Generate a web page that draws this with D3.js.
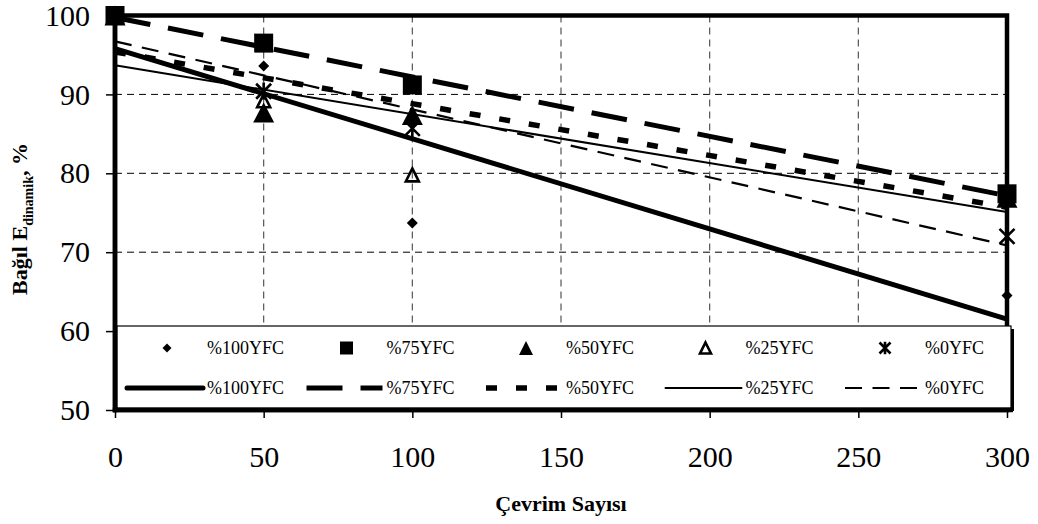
<!DOCTYPE html>
<html>
<head>
<meta charset="utf-8">
<script src="https://cdn.jsdelivr.net/npm/d3@7"></script>
<style>
  html, body { margin: 0; padding: 0; background: #fff; }
  svg { display: block; }
  svg text { font-family: "Liberation Serif", "Times New Roman", serif; fill: #000; }
  .tick text { font-size: 30px; }
  .tick line { stroke: #000; stroke-width: 1.5; }
</style>
</head>
<body>
<svg id="chart" width="1038" height="524"></svg>
<script>
// chart data
const cycles = [0, 50, 100, 300];
const yfc100 = [100, 93.6, 73.7, 64.5];
const yfc75  = [100, 96.5, 91.2, 77.4];
const yfc50  = [100, 87.7, 87.4, 76.9];
const yfc25  = [100, 89.2, 79.8, 77.9];
const yfc0   = [100, 90.4, 85.7, 72.0];
const seriesNames = ["%100YFC", "%75YFC", "%50YFC", "%25YFC", "%0YFC"];
const xTicks = [0, 50, 100, 150, 200, 250, 300];
const yTicks = [50, 60, 70, 80, 90, 100];

const W = 1038, H = 524;
const L = 115, R = 1007, T = 15.5, B = 410;

const svg = d3.select("#chart");
const x = d3.scaleLinear().domain([0, 300]).range([L, R]);
const y = d3.scaleLinear().domain([50, 100]).range([B, T]);

// marker shapes
function diamond(s) { return `M0,${-s}L${s},0L0,${s}L${-s},0Z`; }
function square(s) { return `M${-s},${-s}H${s}V${s}H${-s}Z`; }
function triangle(w, h) { return `M0,${-h/2}L${w/2},${h/2}L${-w/2},${h/2}Z`; }
function star(s) { return `M${-s},${-s}L${s},${s}M${s},${-s}L${-s},${s}M0,${-s*1.15}V${s*1.15}`; }

const series = [
  { name: seriesNames[0], vals: yfc100, marker: () => diamond(5.5), mFill: "#000", mStroke: "none", mW: 0,
    legMarker: () => diamond(4.5), line: { w: 5, dash: null } },
  { name: seriesNames[1], vals: yfc75, marker: () => square(9.5), mFill: "#000", mStroke: "none", mW: 0,
    legMarker: () => square(6.5), line: { w: 5, dash: "36,18" } },
  { name: seriesNames[2], vals: yfc50, marker: () => triangle(21, 20), mFill: "#000", mStroke: "none", mW: 0,
    legMarker: () => triangle(14, 14), line: { w: 5.5, dash: "11,19" } },
  { name: seriesNames[3], vals: yfc25, marker: () => triangle(13, 13), mFill: "none", mStroke: "#000", mW: 2.6,
    legMarker: () => triangle(11, 11), line: { w: 2, dash: null } },
  { name: seriesNames[4], vals: yfc0, marker: () => star(7.5), mFill: "none", mStroke: "#000", mW: 2.6,
    legMarker: () => star(5.5), line: { w: 2.2, dash: "17,10.5" } }
];

// linear trend (least squares)
function trend(vals) {
  const mx = d3.mean(cycles), my = d3.mean(vals);
  const sxy = d3.sum(cycles, (c, i) => (c - mx) * (vals[i] - my));
  const sxx = d3.sum(cycles, c => (c - mx) ** 2);
  const k = sxy / sxx;
  return [[0, my - k * mx], [300, my - k * mx + k * 300]];
}

// grid
const grid = svg.append("g");
grid.selectAll(".hg").data([60, 70, 80, 90]).join("line")
  .attr("x1", L).attr("x2", R).attr("y1", d => y(d)).attr("y2", d => y(d))
  .attr("stroke", "#000").attr("stroke-width", 1).attr("stroke-dasharray", "7,5");
grid.selectAll(".vg").data([50, 100, 150, 200, 250]).join("line")
  .attr("x1", d => x(d)).attr("x2", d => x(d)).attr("y1", T).attr("y2", B)
  .attr("stroke", "#555").attr("stroke-width", 1.2).attr("stroke-dasharray", "7,5");

// axes
const yAxis = svg.append("g").attr("transform", `translate(${L},0)`)
  .call(d3.axisLeft(y).tickValues(yTicks).tickSize(9).tickPadding(16).tickSizeOuter(0));
yAxis.select(".domain").remove();
const xAxis = svg.append("g").attr("transform", `translate(0,${B})`)
  .call(d3.axisBottom(x).tickValues(xTicks).tickSize(8).tickPadding(28).tickSizeOuter(0));
xAxis.select(".domain").remove();

// frame
svg.append("rect").attr("x", L).attr("y", T).attr("width", R - L).attr("height", B - T)
  .attr("fill", "none").attr("stroke", "#000").attr("stroke-width", 4.5);

// trend lines
const lineGen = d3.line().x(d => x(d[0])).y(d => y(d[1]));
svg.append("g").selectAll("path").data(series).join("path")
  .attr("d", s => lineGen(trend(s.vals)))
  .attr("fill", "none").attr("stroke", "#000")
  .attr("stroke-width", s => s.line.w)
  .attr("stroke-dasharray", s => s.line.dash);

// markers
series.forEach(s => {
  svg.append("g").selectAll("path").data(s.vals).join("path")
    .attr("transform", (v, i) => `translate(${x(cycles[i])},${y(v)})`)
    .attr("d", s.marker)
    .attr("fill", s.mFill).attr("stroke", s.mStroke).attr("stroke-width", s.mW);
});

// legend
const lg = svg.append("g");
const LX = 117, LY = 326, LR = 1011, LB = 408;
lg.append("rect").attr("x", LX + 3).attr("y", LY + 3).attr("width", LR - LX).attr("height", LB - LY).attr("fill", "#000");
lg.append("rect").attr("x", LX).attr("y", LY).attr("width", LR - LX).attr("height", LB - LY)
  .attr("fill", "#fff").attr("stroke", "#000").attr("stroke-width", 1.2);
const labelX = i => 207 + i * 179.5;
series.forEach((s, i) => {
  const lx = labelX(i);
  lg.append("path").attr("transform", `translate(${lx - 40},348)`).attr("d", s.legMarker())
    .attr("fill", s.mFill).attr("stroke", s.mStroke).attr("stroke-width", s.mW);
  lg.append("text").attr("x", lx).attr("y", 354).attr("font-size", 18).text(s.name);
  lg.append("line").attr("x1", lx - 80).attr("x2", lx - 4).attr("y1", 388).attr("y2", 388)
    .attr("stroke", "#000").attr("stroke-width", s.line.w)
    .attr("stroke-dasharray", s.line.dash).attr("stroke-linecap", s.line.dash ? "butt" : "round");
  lg.append("text").attr("x", lx).attr("y", 394).attr("font-size", 18).text(s.name);
});
// left and bottom frame over legend
svg.append("line").attr("x1", L).attr("x2", L).attr("y1", T).attr("y2", B + 2.25).attr("stroke", "#000").attr("stroke-width", 4.5);
svg.append("line").attr("x1", L - 2.25).attr("x2", LR + 2).attr("y1", B).attr("y2", B).attr("stroke", "#000").attr("stroke-width", 4.5);

// axis titles
svg.append("text").attr("x", (L + R) / 2).attr("y", 511).attr("text-anchor", "middle")
  .attr("font-size", 22).attr("font-weight", "bold").text("Çevrim Sayısı");
const yt = svg.append("text").attr("transform", "translate(27,219) rotate(-90)")
  .attr("text-anchor", "middle").attr("font-size", 22).attr("font-weight", "bold");
yt.append("tspan").text("Bağıl E");
yt.append("tspan").attr("font-size", 14).attr("dy", 6).text("dinamik");
yt.append("tspan").attr("dy", -6).text(", %");
</script>
</body>
</html>
